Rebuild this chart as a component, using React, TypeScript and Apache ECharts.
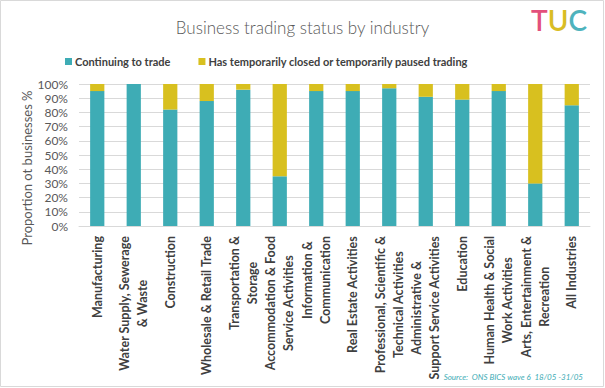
import React, { useEffect, useRef } from "react";
import * as echarts from "echarts";

const categories = [
  "Manufacturing",
  "Water Supply, Sewerage\n& Waste",
  "Construction",
  "Wholesale & Retail Trade",
  "Transportation &\nStorage",
  "Accommodation & Food\nService Activities",
  "Information &\nCommunication",
  "Real Estate Activities",
  "Professional, Scientific &\nTechnical Activities",
  "Administrative &\nSupport Service Activities",
  "Education",
  "Human Health & Social\nWork Activities",
  "Arts, Entertainment &\nRecreation",
  "All Industries",
];
const continuing = [95, 100, 82, 88, 96, 35, 95, 95, 97, 91, 89, 95, 30, 85];
const closed = [5, 0, 18, 12, 4, 65, 5, 5, 3, 9, 11, 5, 70, 15];
const seriesNames = ["Continuing to trade", "Has temporarily closed or temporarily paused trading"];
const yTicks = { min: 0, max: 100, interval: 10 };

const FONT = "Lato";

export default function App() {
  const ref = useRef<HTMLDivElement>(null);
  useEffect(() => {
    const chart = echarts.init(ref.current!, null, { renderer: "svg" });
    chart.setOption({
      animation: false,
      backgroundColor: "#ffffff",
      textStyle: { fontFamily: FONT },
      title: {
        text: "Business trading status by industry",
        left: "center",
        top: 14,
        textStyle: { fontFamily: FONT, fontSize: 17, fontWeight: 300, color: "#595959" },
      },
      legend: {
        left: 60,
        top: 51,
        itemWidth: 7,
        itemHeight: 7,
        itemGap: 28,
        icon: "rect",
        textStyle: { fontFamily: FONT, fontSize: 11, fontWeight: "bold", color: "#404040", padding: [0, 0, 0, -2] },
        data: seriesNames,
      },
      grid: { left: 79, right: 15, top: 84, bottom: 162 },
      xAxis: {
        type: "category",
        data: categories,
        axisLine: { lineStyle: { color: "#d9d9d9" } },
        axisTick: { show: false },
        axisLabel: {
          interval: 0,
          rotate: 90,
          margin: 10,
          formatter: (v: string) => v.split("\n").map((s) => "{a|" + s + "}").join("\n"),
          rich: {
            a: { fontFamily: FONT, fontSize: 12.5, fontWeight: "bold", color: "#404040", align: "center", lineHeight: 18 },
          },
        },
      },
      yAxis: {
        type: "value",
        min: yTicks.min,
        max: yTicks.max,
        interval: yTicks.interval,
        axisLine: { show: false },
        axisTick: { show: false },
        splitLine: { lineStyle: { color: "#d9d9d9" } },
        axisLabel: { formatter: "{value}%", fontFamily: FONT, fontSize: 12, color: "#595959", margin: 11 },
      },
      series: [
        {
          name: seriesNames[0],
          type: "bar",
          stack: "s",
          data: continuing,
          barWidth: "39%",
          itemStyle: { color: "#3eacb5" },
        },
        {
          name: seriesNames[1],
          type: "bar",
          stack: "s",
          data: closed,
          barWidth: "39%",
          itemStyle: { color: "#d8c01f" },
        },
      ],
      graphic: [
        {
          type: "rect",
          shape: { x: 0.5, y: 0.5, width: 603, height: 386 },
          style: { fill: "none", stroke: "#d9d9d9", lineWidth: 1 },
          silent: true,
        },
        {
          type: "text",
          x: 27,
          y: 168,
          rotation: Math.PI / 2,
          style: {
            text: "Proportion ot businesses %",
            font: `13px ${FONT}`,
            fill: "#595959",
            align: "center",
            verticalAlign: "middle",
          },
        },
        {
          type: "text",
          right: 22,
          top: 373,
          style: {
            text: "Source:  ONS BICS wave 6  18/05 -31/05",
            font: `italic 8px ${FONT}`,
            fill: "#3eacb5",
          },
        },
        {
          type: "text",
          x: 531,
          y: 6,
          style: {
            text: "{t|T}{u|U}{c|C}",
            rich: {
              t: { fontFamily: FONT, fontSize: 28, fontWeight: 600, fill: "#e3507c" },
              u: { fontFamily: FONT, fontSize: 28, fontWeight: 600, fill: "#d9bd24" },
              c: { fontFamily: FONT, fontSize: 28, fontWeight: 600, fill: "#4eb3bd" },
            },
          },
        },
      ],
    });
    return () => chart.dispose();
  }, []);
  return (
    <div
      ref={ref}
      style={{ position: "fixed", left: 0, top: 0, width: 605, height: 388 }}
    />
  );
}
